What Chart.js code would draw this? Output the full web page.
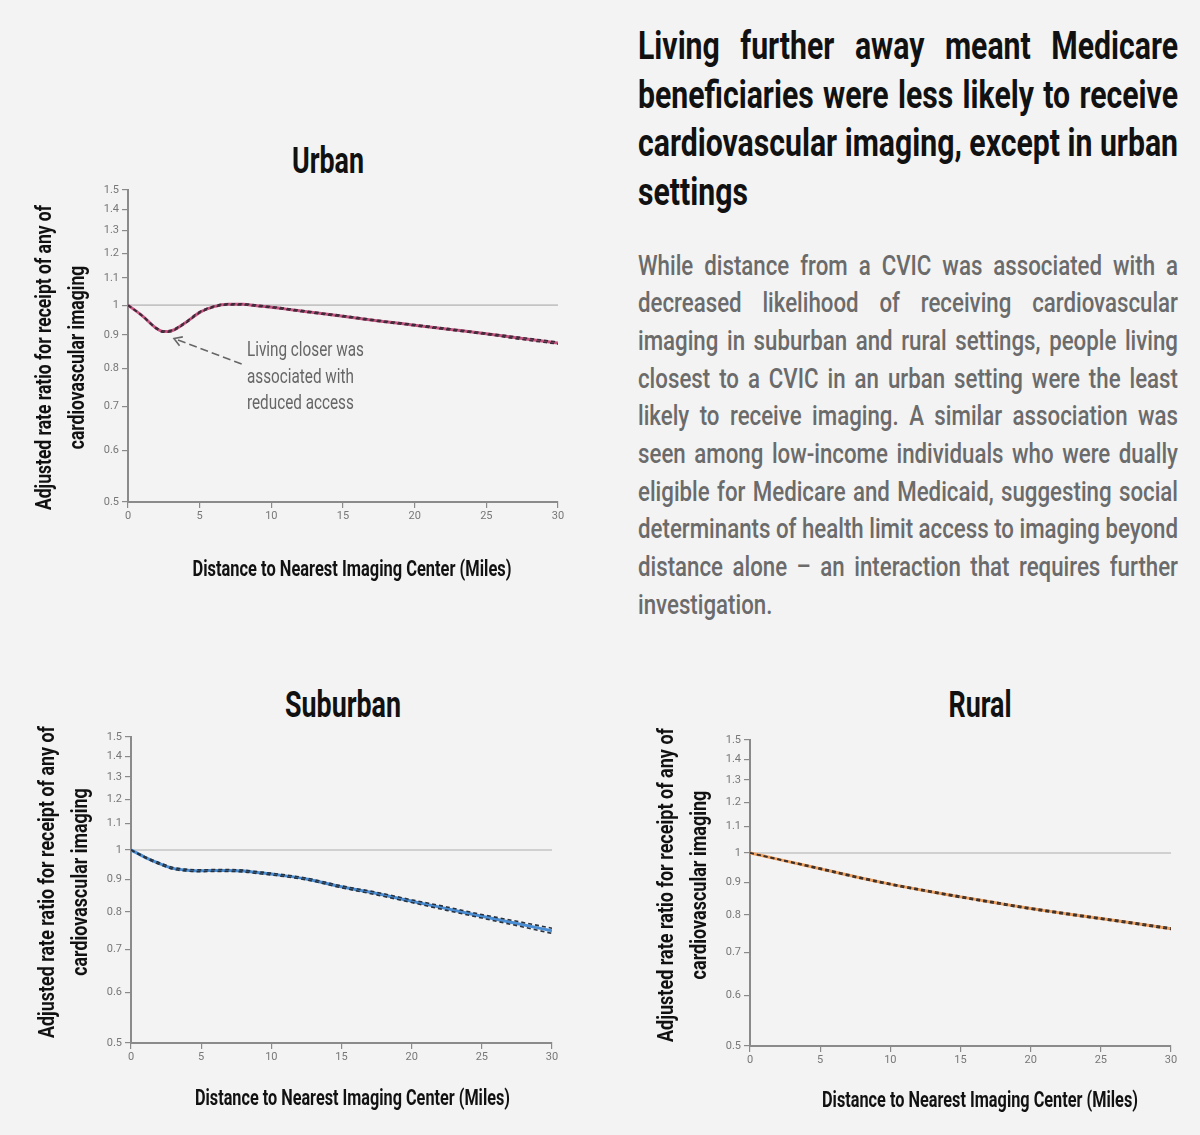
<!DOCTYPE html>
<html>
<head>
<meta charset="utf-8">
<script src="https://cdn.jsdelivr.net/npm/chart.js@4.4.1/dist/chart.umd.min.js"></script>
<style>
  html, body { margin: 0; padding: 0; }
  body {
    width: 1200px; height: 1135px; position: relative; overflow: hidden;
    background: #f3f3f3;
    font-family: Roboto, 'Liberation Sans', sans-serif;
  }
  canvas { position: absolute; }
  .ttl { position: absolute; color: #111; font-weight: bold; line-height: 1; white-space: nowrap; }
  .block { position: absolute; left: 638px; }
  .block div { text-align: justify; text-align-last: justify; white-space: nowrap; transform-origin: 0 0; }
  .block div:last-child { text-align-last: left; }
  #head { top: 22px; color: #111; font-weight: bold; font-size: 39px; line-height: 48.5px; }
  #para { top: 246.5px; color: #6b6b6b; font-weight: 500; font-size: 28px; line-height: 37.7px; }
</style>
</head>
<body>
<div class="ttl" id="t-urban">Urban</div>
<div class="ttl" id="t-suburban">Suburban</div>
<div class="ttl" id="t-rural">Rural</div>

<div class="block" id="head"></div>
<div class="block" id="para"></div>

<canvas id="urban" width="570" height="404" style="left:20px; top:178px"></canvas>
<canvas id="suburban" width="570" height="393" style="left:20px; top:725px"></canvas>
<canvas id="rural" width="560" height="393" style="left:640px; top:728px"></canvas>

<script>
const FONT = "Roboto, 'Liberation Sans', sans-serif";
const AXIS = '#8a8a8a';
const CAP = 0.711; // Roboto cap height / em

// text
const HEAD_LINES = [
	'Living further away meant Medicare',
	'beneficiaries were less likely to receive',
	'cardiovascular imaging, except in urban',
	'settings',
];
const PARA_LINES = [
	'While distance from a CVIC was associated with a',
	'decreased likelihood of receiving cardiovascular',
	'imaging in suburban and rural settings, people living',
	'closest to a CVIC in an urban setting were the least',
	'likely to receive imaging. A similar association was',
	'seen among low-income individuals who were dually',
	'eligible for Medicare and Medicaid, suggesting social',
	'determinants of health limit access to imaging beyond',
	'distance alone \u2013 an interaction that requires further',
	'investigation.',
];
const Y_TITLE = ['Adjusted rate ratio for receipt of any of', 'cardiovascular imaging'];
const X_TITLE = 'Distance to Nearest Imaging Center (Miles)';
const NOTE_LINES = ['Living closer was', 'associated with', 'reduced access'];

// axes
const X_TICKS = [0, 5, 10, 15, 20, 25, 30];
const Y_TICKS = [0.5, 0.6, 0.7, 0.8, 0.9, 1, 1.1, 1.2, 1.3, 1.4, 1.5];
const Y_TICK_LABELS = ['0.5', '0.6', '0.7', '0.8', '0.9', '1', '1.1', '1.2', '1.3', '1.4', '1.5'];
const REF_LINE = [1, 1];

// urban
const urban_miles = [0, 1, 2, 2.5, 3, 4, 5, 6, 7, 8, 9, 10, 12.5, 15, 17.5, 20, 22.5, 25, 27.5, 30];
const urban_rr = [1.0, 0.963, 0.921, 0.911, 0.913, 0.94, 0.975, 0.995, 1.003, 1.003, 0.998, 0.993, 0.977, 0.962, 0.946, 0.932, 0.918, 0.904, 0.889, 0.875];
const urban_hi = [1.0, 0.964, 0.923, 0.913, 0.915, 0.942, 0.977, 0.997, 1.005, 1.005, 1.0, 0.995, 0.979, 0.964, 0.948, 0.934, 0.92, 0.906, 0.892, 0.878];
const urban_lo = [1.0, 0.962, 0.919, 0.909, 0.911, 0.938, 0.973, 0.993, 1.001, 1.001, 0.996, 0.991, 0.975, 0.96, 0.944, 0.93, 0.916, 0.902, 0.886, 0.872];

// suburban
const suburban_miles = [0, 1, 2, 3, 4, 5, 6, 7, 8, 9, 10, 12.5, 15, 17.5, 20, 22.5, 25, 27.5, 30];
const suburban_rr = [1.0, 0.974, 0.953, 0.936, 0.93, 0.928, 0.929, 0.929, 0.927, 0.922, 0.917, 0.901, 0.876, 0.855, 0.832, 0.81, 0.788, 0.768, 0.748];
const suburban_hi = [1.0, 0.976, 0.956, 0.939, 0.933, 0.931, 0.932, 0.932, 0.93, 0.925, 0.92, 0.904, 0.879, 0.859, 0.836, 0.815, 0.793, 0.774, 0.755];
const suburban_lo = [1.0, 0.972, 0.95, 0.933, 0.927, 0.925, 0.926, 0.926, 0.924, 0.919, 0.914, 0.898, 0.873, 0.851, 0.828, 0.805, 0.783, 0.762, 0.741];

// rural
const rural_miles = [0, 2.5, 5, 7.5, 10, 12.5, 15, 17.5, 20, 22.5, 25, 27.5, 30];
const rural_rr = [1.0, 0.972, 0.945, 0.918, 0.894, 0.873, 0.854, 0.836, 0.819, 0.804, 0.79, 0.776, 0.762];
const rural_hi = [1.0, 0.973, 0.947, 0.92, 0.896, 0.875, 0.856, 0.838, 0.821, 0.806, 0.792, 0.778, 0.764];
const rural_lo = [1.0, 0.971, 0.943, 0.916, 0.892, 0.871, 0.852, 0.834, 0.817, 0.802, 0.788, 0.774, 0.76];

// urban callout, in data units (miles, rate ratio)
const NOTE_AT = [8.3, 0.858];
const ARROW_FROM = [7.93, 0.813];
const ARROW_TO = [3.21, 0.889];

const mctx = document.createElement('canvas').getContext('2d');
function textWidth(text, font) {
	mctx.font = font;
	return mctx.measureText(text).width;
}

// justified, horizontally squeezed text blocks (stand-in for a condensed face)
function fillBlock(id, lines, width) {
	const el = document.getElementById(id);
	const cs = getComputedStyle(el);
	const font = cs.fontWeight + ' ' + cs.fontSize + ' ' + FONT;
	let s = 1;
	lines.forEach((l, i) => {
		if (i < lines.length - 1) s = Math.min(s, width / textWidth(l, font));
	});
	lines.forEach((l) => {
		const d = document.createElement('div');
		d.textContent = l;
		d.style.width = (width / s).toFixed(2) + 'px';
		d.style.transform = 'scaleX(' + s.toFixed(4) + ')';
		el.appendChild(d);
	});
}
fillBlock('head', HEAD_LINES, 540);
fillBlock('para', PARA_LINES, 540);

// chart titles: cap height 26.7px, "Suburban" 116px wide
const TITLE_SIZE = 26.7 / CAP;
const titleScale = 116 / textWidth('Suburban', 'bold ' + TITLE_SIZE + 'px ' + FONT);
[['t-urban', 328, 160], ['t-suburban', 343, 704], ['t-rural', 980, 704]].forEach(([id, cx, cy]) => {
	const el = document.getElementById(id);
	el.style.fontSize = TITLE_SIZE + 'px';
	el.style.left = cx + 'px';
	el.style.top = (cy - 0.486 * TITLE_SIZE) + 'px';
	el.style.transform = 'translateX(-50%) scaleX(' + titleScale.toFixed(4) + ')';
});

function squeezed(ctx, text, font, width, x, y, capH, rot, align) {
	ctx.save();
	ctx.font = font;
	ctx.translate(x, y);
	if (rot) ctx.rotate(rot);
	ctx.scale(width, 1);
	ctx.textAlign = align || 'center';
	ctx.textBaseline = 'alphabetic';
	ctx.fillText(text, 0, capH / 2);
	ctx.restore();
}

const AXIS_FONT_SIZE = 16 / CAP;
const AXIS_FONT = 'bold ' + AXIS_FONT_SIZE.toFixed(2) + 'px ' + FONT;
const NOTE_FONT_SIZE = 15 / CAP;
const NOTE_FONT = 'normal ' + NOTE_FONT_SIZE.toFixed(2) + 'px ' + FONT;

const axisTextPlugin = {
	id: 'axisText',
	afterDraw(chart, args, o) {
		const ctx = chart.ctx;
		ctx.save();
		ctx.fillStyle = '#111';
		const sy = o.yLen / textWidth(Y_TITLE[0], AXIS_FONT);
		Y_TITLE.forEach((t, i) => {
			squeezed(ctx, t, AXIS_FONT, sy, o.yx + i * 33, o.ycy, 16, -Math.PI / 2);
		});
		const sx = o.xLen / textWidth(X_TITLE, AXIS_FONT);
		squeezed(ctx, X_TITLE, AXIS_FONT, sx, o.xcx, o.xcy, 16, 0);
		ctx.restore();
	},
};

const calloutPlugin = {
	id: 'callout',
	afterDatasetsDraw(chart) {
		const xs = chart.scales.x;
		const ys = chart.scales.y;
		const ctx = chart.ctx;
		const x1 = xs.getPixelForValue(ARROW_FROM[0]);
		const y1 = ys.getPixelForValue(ARROW_FROM[1]);
		const x2 = xs.getPixelForValue(ARROW_TO[0]);
		const y2 = ys.getPixelForValue(ARROW_TO[1]);
		const ang = Math.atan2(y2 - y1, x2 - x1);
		ctx.save();
		ctx.strokeStyle = '#666';
		ctx.lineWidth = 1.6;
		ctx.setLineDash([8, 4]);
		ctx.beginPath();
		ctx.moveTo(x1, y1);
		ctx.lineTo(x2, y2);
		ctx.stroke();
		ctx.setLineDash([]);
		ctx.beginPath();
		ctx.moveTo(x2 - 9 * Math.cos(ang - 0.55), y2 - 9 * Math.sin(ang - 0.55));
		ctx.lineTo(x2, y2);
		ctx.lineTo(x2 - 9 * Math.cos(ang + 0.55), y2 - 9 * Math.sin(ang + 0.55));
		ctx.stroke();
		ctx.fillStyle = '#666';
		const s = 117 / textWidth(NOTE_LINES[0], NOTE_FONT);
		const tx = xs.getPixelForValue(NOTE_AT[0]);
		const ty = ys.getPixelForValue(NOTE_AT[1]);
		NOTE_LINES.forEach((l, i) => squeezed(ctx, l, NOTE_FONT, s, tx, ty + i * 26.4, 15, 0, 'left'));
		ctx.restore();
	},
};

function points(xs, ys) {
	return xs.map((x, i) => ({ x: x, y: ys[i] }));
}

function makeChart(id, miles, rr, hi, lo, color, band, box, text, extra) {
	const datasets = [
		{ data: points(miles, hi), borderColor: band, borderWidth: 1.6, borderDash: [4, 3] },
		{ data: points(miles, lo), borderColor: band, borderWidth: 1.6, borderDash: [4, 3] },
		{ data: points(miles, rr), borderColor: color, borderWidth: 3 },
		{ data: points([X_TICKS[0], X_TICKS[X_TICKS.length - 1]], REF_LINE), borderColor: '#c4c4c4', borderWidth: 1.6, tension: 0 },
	];
	return new Chart(document.getElementById(id), {
		type: 'line',
		data: { datasets: datasets },
		plugins: extra ? [axisTextPlugin, extra] : [axisTextPlugin],
		options: {
			responsive: false,
			animation: false,
			devicePixelRatio: 1,
			layout: { padding: { top: 12, right: box.right, left: 0, bottom: 0 } },
			elements: {
				point: { radius: 0 },
				line: { cubicInterpolationMode: 'monotone', fill: false },
			},
			plugins: {
				legend: { display: false },
				tooltip: { enabled: false },
				title: { display: false },
				axisText: text,
			},
			scales: {
				x: {
					type: 'linear',
					min: 0,
					max: 30,
					afterBuildTicks: (s) => { s.ticks = X_TICKS.map((v) => ({ value: v })); },
					afterFit: (s) => { s.height = box.xh; },
					border: { color: AXIS, width: 2 },
					grid: { drawOnChartArea: false, tickLength: 6, color: AXIS, lineWidth: 1.2 },
					ticks: { autoSkip: false, maxRotation: 0, padding: 2, color: '#777', font: { family: FONT, size: 11 } },
				},
				y: {
					type: 'logarithmic',
					min: 0.5,
					max: 1.5,
					afterBuildTicks: (s) => { s.ticks = Y_TICKS.map((v) => ({ value: v })); },
					afterFit: (s) => { s.width = box.yw; },
					border: { color: AXIS, width: 2 },
					grid: { drawOnChartArea: false, tickLength: 6, color: AXIS, lineWidth: 1.2 },
					ticks: {
						autoSkip: false,
						padding: 3,
						color: '#777',
						font: { family: FONT, size: 11 },
						callback: (v, i) => Y_TICK_LABELS[i],
					},
				},
			},
		},
	});
}

makeChart('urban', urban_miles, urban_rr, urban_hi, urban_lo, '#c8557f', '#3b2b3b',
	{ right: 32, xh: 80, yw: 108 },
	{ yx: 23.3, ycy: 179.5, yLen: 305, xcx: 332, xcy: 390, xLen: 319 }, calloutPlugin);
makeChart('suburban', suburban_miles, suburban_rr, suburban_hi, suburban_lo, '#4a8fd6', '#28323f',
	{ right: 38, xh: 75, yw: 111 },
	{ yx: 26, ycy: 157, yLen: 312, xcx: 332.5, xcy: 372, xLen: 315 });
makeChart('rural', rural_miles, rural_rr, rural_hi, rural_lo, '#f0a05e', '#3a302c',
	{ right: 29, xh: 75, yw: 110 },
	{ yx: 25, ycy: 157, yLen: 314, xcx: 340, xcy: 371, xLen: 316 });
</script>
</body>
</html>
